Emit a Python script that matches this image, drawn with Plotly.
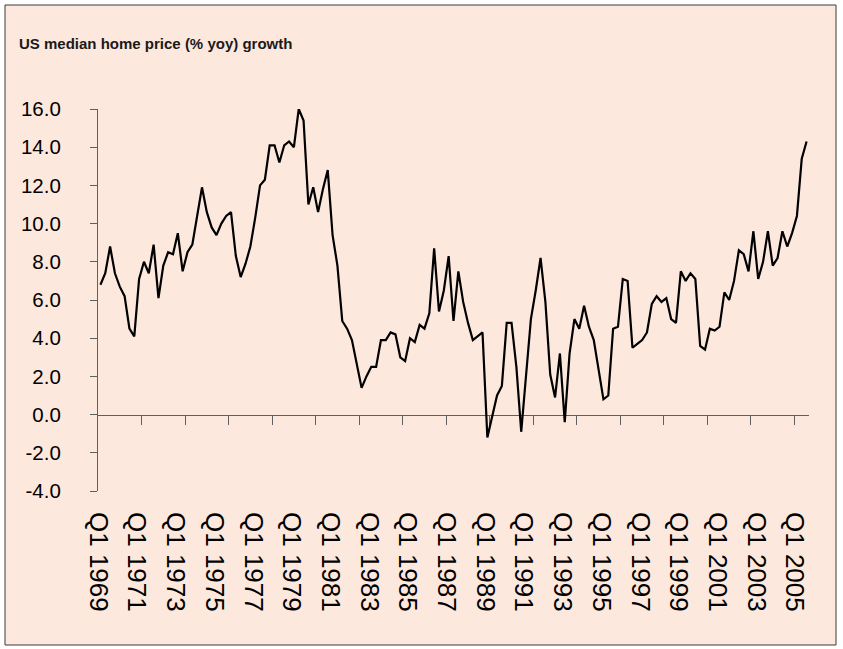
import glob
import plotly.graph_objects as go

# ---------------- data ----------------
start_year = 1969
growth = [
    6.8, 7.4, 8.8, 7.4, 6.7, 6.2, 4.5, 4.1, 7.1, 8.0,
    7.4, 8.9, 6.1, 7.8, 8.5, 8.4, 9.5, 7.5, 8.5, 8.9,
    10.4, 11.9, 10.6, 9.8, 9.4, 10.0, 10.4, 10.6, 8.3, 7.2,
    7.9, 8.8, 10.3, 12.0, 12.3, 14.1, 14.1, 13.2, 14.1, 14.3,
    14.0, 16.0, 15.4, 11.0, 11.9, 10.6, 11.8, 12.8, 9.4, 7.8,
    4.9, 4.5, 3.9, 2.6, 1.4, 2.0, 2.5, 2.5, 3.9, 3.9,
    4.3, 4.2, 3.0, 2.8, 4.0, 3.8, 4.7, 4.5, 5.3, 8.7,
    5.4, 6.5, 8.3, 4.9, 7.5, 5.9, 4.8, 3.9, 4.1, 4.3,
    -1.2, -0.1, 1.0, 1.5, 4.8, 4.8, 2.5, -0.9, 2.1, 5.0,
    6.5, 8.2, 5.9, 2.1, 0.9, 3.2, -0.4, 3.2, 5.0, 4.5,
    5.7, 4.6, 3.9, 2.4, 0.8, 1.0, 4.5, 4.6, 7.1, 7.0,
    3.5, 3.7, 3.9, 4.3, 5.8, 6.2, 5.9, 6.1, 5.0, 4.8,
    7.5, 7.0, 7.4, 7.1, 3.6, 3.4, 4.5, 4.4, 4.6, 6.4,
    6.0, 7.0, 8.6, 8.4, 7.5, 9.6, 7.1, 8.0, 9.6, 7.8,
    8.2, 9.6, 8.8, 9.5, 10.4, 13.4, 14.3,
]
quarters = [f"Q{(i % 4) + 1} {start_year + i // 4}" for i in range(len(growth))]

x_ticklabels = ["Q1 1969", "Q1 1971", "Q1 1973", "Q1 1975", "Q1 1977",
                "Q1 1979", "Q1 1981", "Q1 1983", "Q1 1985", "Q1 1987",
                "Q1 1989", "Q1 1991", "Q1 1993", "Q1 1995", "Q1 1997",
                "Q1 1999", "Q1 2001", "Q1 2003", "Q1 2005"]
y_ticks = [-4, -2, 0, 2, 4, 6, 8, 10, 12, 14, 16]
y_ticklabels = ["-4.0", "-2.0", "0.0", "2.0", "4.0", "6.0", "8.0",
                "10.0", "12.0", "14.0", "16.0"]
title_text = "US median home price (% yoy) growth"

# ---------------- styling ----------------
narrow = glob.glob("/usr/share/fonts/**/LiberationSansNarrow-Regular*", recursive=True)
if narrow:
    FONT = "Liberation Sans Narrow"
    TITLE_SIZE, YTICK_SIZE, XTICK_SIZE = 19, 25, 31
else:
    FONT = "Liberation Sans, Arial, sans-serif"
    TITLE_SIZE, YTICK_SIZE, XTICK_SIZE = 15, 20.5, 26

W, H = 843, 649
L, R, T, B = 98, 34, 109, 158
PW, PH = W - L - R, H - T - B
BG = "#FDE8DE"
AX = "#5f5f5f"

idx = list(range(len(growth)))
n = len(growth)
xr = [-0.5, n - 0.5]
yr = [y_ticks[0], y_ticks[-1]]
zero_pos = (0 - yr[0]) / (yr[1] - yr[0])

label_vals = [quarters.index(lbl) - 0.45 for lbl in x_ticklabels]
tick_vals = [-0.5 + 9 * k for k in range(1, 17)]


def px_x(p):
    return (p - L) / PW


def px_y(p):
    return (H - B - p) / PH


fig = go.Figure()
fig.add_trace(go.Scatter(
    x=idx, y=growth, mode="lines", text=quarters,
    line=dict(color="#000000", width=2.2),
    hovertemplate="%{text}: %{y:.1f}<extra></extra>",
    showlegend=False,
))
fig.add_trace(go.Scatter(
    x=idx, y=growth, xaxis="x2", mode="none", hoverinfo="skip", showlegend=False,
))

fig.update_layout(
    width=W, height=H, autosize=False,
    margin=dict(l=L, r=R, t=T, b=B, pad=0),
    paper_bgcolor="#ffffff",
    plot_bgcolor="rgba(0,0,0,0)",
    font=dict(family=FONT, color="#000000"),
    title=dict(
        text=f"<b>{title_text}</b>",
        x=19 / W, xanchor="left", xref="container",
        y=1 - 44 / H, yanchor="middle", yref="container",
        font=dict(size=TITLE_SIZE, color="#1a1a1a", family=FONT),
    ),
    xaxis=dict(
        range=xr, anchor="free", position=zero_pos,
        tickmode="array", tickvals=tick_vals, ticktext=[""] * len(tick_vals),
        ticks="outside", ticklen=9, tickwidth=1, tickcolor=AX,
        showline=True, linecolor=AX, linewidth=1.2,
        showgrid=False, zeroline=False, layer="below traces", fixedrange=True,
    ),
    xaxis2=dict(
        range=xr, overlaying="x", anchor="y", side="bottom",
        tickmode="array", tickvals=label_vals, ticktext=x_ticklabels,
        tickangle=90, ticks="", showline=False, showgrid=False, zeroline=False,
        tickfont=dict(size=XTICK_SIZE, color="#000000", family=FONT),
        ticklabelstandoff=20, fixedrange=True,
    ),
    yaxis=dict(
        range=yr, tickmode="array", tickvals=y_ticks, ticktext=y_ticklabels,
        ticks="outside", ticklen=7, tickwidth=1, tickcolor=AX,
        showline=True, linecolor=AX, linewidth=1.2,
        showgrid=False, zeroline=False, layer="below traces",
        tickfont=dict(size=YTICK_SIZE, color="#000000", family=FONT),
        ticklabelstandoff=25, fixedrange=True,
    ),
    shapes=[dict(
        type="rect", xref="paper", yref="paper", layer="below",
        x0=px_x(5), x1=px_x(836), y0=px_y(645), y1=px_y(5),
        fillcolor=BG, line=dict(color="#3a3a3a", width=1),
    )],
)

fig.write_html(
    "out.html",
    config={"displayModeBar": False},
    post_script="document.body.style.margin='0px';document.body.style.overflow='hidden';",
)
